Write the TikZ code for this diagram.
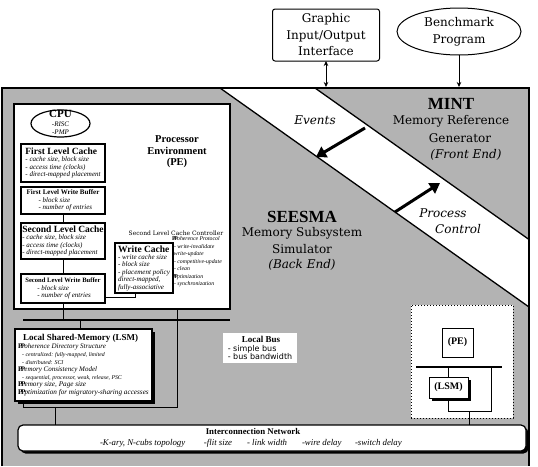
\documentclass[tikz,border=0pt]{standalone}
\usepackage{fontspec}
\setmainfont{Liberation Serif}
\newfontfamily\dvs{DejaVu Serif}
\newfontfamily\dvss{DejaVu Sans}
\usetikzlibrary{arrows.meta,shapes.geometric,shadows}
\newcommand\fz[2]{\fontsize{#1}{#2}\selectfont}
\newcommand\pp{{\normalfont\bfseries P\kern-.22em P\kern-.12em}}
\definecolor{bggray}{RGB}{179,179,179}
\begin{document}
\begin{tikzpicture}[x=1pt,y=-1pt,
  every node/.style={inner sep=0pt,outer sep=0pt},
  wbox/.style={draw,line width=1.2pt,fill=white,anchor=north west},
  shbox/.style={wbox,drop shadow={shadow xshift=2.5pt,shadow yshift=-2.5pt,fill=black,opacity=1}},
  conn/.style={line width=1pt},
  busline/.style={line width=2.4pt},
  bigarrow/.style={line width=3pt,-{Triangle[length=10pt,width=12pt]}},
  tip/.style={line width=0.8pt},
  lbl/.style={font=\dvs\fz{12}{16}},
  lbli/.style={font=\dvs\itshape\fz{12}{16}},
  ttl/.style={font=\bfseries\fz{17}{17}},
  boxtxt/.style={align=left,font=\itshape\fz{7}{7.6}},
]
\useasboundingbox (0,0) rectangle (538,466);
% ---- big frame with diagonal band
\fill[bggray] (2,88) rectangle (529,466);
\fill[white] (220,88) -- (315,88) -- (529,239.5) -- (529,307) -- cycle;
\draw[line width=1.3pt] (220,88) -- (529,307);
\draw[line width=1.3pt] (315,88) -- (529,239.5);
\draw[line width=2pt] (2,466) -- (2,88) -- (529,88) -- (529,466);
\coordinate (ftopA) at (326,87);
\coordinate (ftopB) at (459,87);
% ---- top nodes
\node[draw,line width=1pt,rounded corners=2.5pt,fill=white,minimum width=107,minimum height=52,align=center,font=\dvs\fz{12}{16.5}] (gio) at (326,35) {Graphic\\Input/Output\\Interface};
\node[draw,ellipse,line width=1pt,fill=white,minimum width=124,minimum height=47,align=center,font=\dvs\fz{12}{17}] (bp) at (459,31.5) {Benchmark\\Program};
\draw[tip,{Stealth[length=5pt,width=4.5pt]}-{Stealth[length=5pt,width=4.5pt]}] (gio.south) -- (ftopA);
\draw[tip,-{Stealth[length=5pt,width=4.5pt]}] (bp.south) -- (ftopB);
% ---- band arrows and labels
\coordinate (evA) at (365,128);
\coordinate (evB) at (316,157);
\coordinate (pcA) at (395,212);
\coordinate (pcB) at (440,183);
\draw[bigarrow] (evA) -- (evB);
\draw[bigarrow] (pcA) -- (pcB);
\node[lbli] (events) at (315,120) {Events};
\node[lbli] (process) at (443,213) {Process};
\node[lbli] (control) at (458,229) {Control};
\node[ttl] (mint) at (451,104) {MINT};
\node[lbl] (mint1) at (451,121) {Memory Reference};
\node[lbl] (mint2) at (460,138) {Generator};
\node[lbli] (mint3) at (466,155) {(Front End)};
\node[ttl] (seesma) at (302,217) {SEESMA};
\node[lbl] (seesma1) at (302,233) {Memory Subsystem};
\node[lbl] (seesma2) at (302,249) {Simulator};
\node[lbli] (seesma3) at (302,265) {(Back End)};
% ---- processor environment
\node[draw,line width=2pt,fill=white,anchor=north west,minimum width=216,minimum height=205] (pe) at (14,104) {};
\node[font=\bfseries\fz{10.5}{11.5},align=center] (pelbl) at (177,152) {Processor\\Environment\\(PE)};
\node[draw,ellipse,line width=1.2pt,fill=white,minimum width=59,minimum height=27] (cpu) at (60.5,123.5) {};
\node[align=center,font=\itshape\fz{7}{8.5}] (cputxt) at (60.5,122.5) {{\upshape\bfseries\fz{11}{9}CPU}\\-RISC\\-PMP};
\node[wbox,boxtxt,minimum width=84,minimum height=38] (flc) at (21,144) {{\upshape\bfseries\fz{9.5}{10}First Level Cache}\\- cache size, block size\\- access time (clocks)\\- direct-mapped placement};
\node[wbox,boxtxt,minimum width=84,minimum height=27] (flwb) at (21,187) {{\upshape\bfseries\fz{7}{8}First Level Write Buffer}\\\hspace*{12pt}- block size\\\hspace*{12pt}- number of entries};
\node[wbox,boxtxt,minimum width=84,minimum height=36] (slc) at (21,223) {{\upshape\bfseries\fz{9.5}{10}Second Level Cache}\\- cache size, block size\\- access time (clocks)\\- direct-mapped placement};
\node[wbox,boxtxt,minimum width=84,minimum height=29] (slwb) at (21,274) {{\upshape\bfseries\fz{6.6}{8}Second Level Write Buffer}\\\hspace*{12pt}- block size\\\hspace*{12pt}- number of entries};
\node[wbox,boxtxt,font=\itshape\fz{7}{7.4},minimum width=58,minimum height=50] (wc) at (115,243) {{\upshape\bfseries\fz{9.5}{10}Write Cache}\\- write cache size\\- block size\\- placement policy\\direct-mapped,\\fully-associative};
\node[font=\dvs\fz{6}{7}] (sclc) at (176,233) {Second Level Cache Controller};
\node[anchor=north west,align=left,font=\itshape\fz{5.8}{7.5}] (coh) at (172,236.5) {\pp oherence Protocol\\\hspace*{2pt}- write-invalidate\\-write-update\\\hspace*{2pt}- competitive-update\\\hspace*{2pt}- clean\\\pp ptimization\\\hspace*{2pt}- synchronization};
% ---- local bus and LSM
\coordinate (busL) at (23,320);
\coordinate (busR) at (230,320);
\draw[busline] (busL) -- (busR);
\node[shbox,boxtxt,minimum width=137,minimum height=72] (lsm) at (15,329) {{\upshape\bfseries\fz{9}{10}\hspace*{5pt}Local Shared-Memory (LSM)}\\[1pt]\pp oherence Directory Structure\\{\fz{5.8}{7.6}\hspace*{4pt}- centralized: fully-mapped, limited}\\{\fz{5.8}{7.6}\hspace*{4pt}- distributed: SCI}\\\pp emory Consistency Model\\{\fz{5.8}{7.6}\hspace*{4pt}- sequential, processor, weak, release, PSC}\\{\fz{7.2}{7.6}\pp emory size, Page size}\\{\fz{7.2}{7.6}\pp ptimization for migratory-sharing accesses}};
\node[fill=white,anchor=north west,minimum width=74,minimum height=30,align=left,font=\dvss\fz{8}{8.8}] (lbus) at (223,333) {\hspace*{14pt}{\rmfamily\bfseries\fz{9}{9}Local Bus}\\- simple bus\\- bus bandwidth};
% ---- interconnection network
\node[shbox,rounded corners=5pt,minimum width=508,minimum height=26] (net) at (18,425) {};
\node[font=\bfseries\fz{8.8}{9}] (nettitle) at (253,431) {Interconnection Network};
\node[anchor=west,font=\itshape\fz{8.8}{9}] (netitems) at (100,443.5) {\makebox[104pt][l]{-K-ary, N-cubs topology}\makebox[43pt][l]{-flit size}\makebox[55pt][l]{- link width}\makebox[53pt][l]{-wire delay}-switch delay};
% ---- inset system
\node[draw,dotted,line width=1pt,fill=white,anchor=north west,minimum width=102,minimum height=113] (inset) at (411,305) {};
\node[wbox,line width=1pt,minimum width=31,minimum height=29,font=\bfseries\fz{10}{10}] (pe2) at (442,328) {(PE)};
\coordinate (ibL) at (416,367);
\coordinate (ibR) at (502,367);
\draw[busline] (ibL) -- (ibR);
\node[shbox,line width=1pt,minimum width=39,minimum height=21,font=\bfseries\fz{10}{10}] (lsm2) at (429,377) {(LSM)};
% ---- connectors
\coordinate (c63) at (63,0);
\coordinate (c80) at (80,0);
\coordinate (c177) at (177,0);
\coordinate (c55) at (55,0);
\coordinate (c469) at (469,0);
\coordinate (lsmtail) at (23,407);
\coordinate (wcjoin) at (135,297);
\coordinate (itail) at (491,411);
\draw[conn] (flwb.south -| c63) -- (slc.north -| c63);
\draw[conn] (slc.south -| c63) -- (slwb.north -| c63);
\draw[conn] (slwb.south -| c63) -- (busL -| c63);
\draw[conn] (busL -| c80) -- (lsm.north -| c80);
\draw[conn] (wc.south -| wcjoin) -- (wcjoin) -- (slwb.east |- wcjoin);
\draw[conn] (pe.south -| c177) -- (lsmtail -| c177) -- (lsmtail) -- (lsm.south -| lsmtail);
\draw[conn] (lsmtail -| c55) -- (net.north -| c55);
\draw[conn] (ibL -| lsm2.north) -- (lsm2.north);
\draw[conn] (lsm2.south) |- (itail) -- (ibL -| itail);
\draw[conn] (itail -| c469) -- (net.north -| c469);
\end{tikzpicture}
\end{document}
